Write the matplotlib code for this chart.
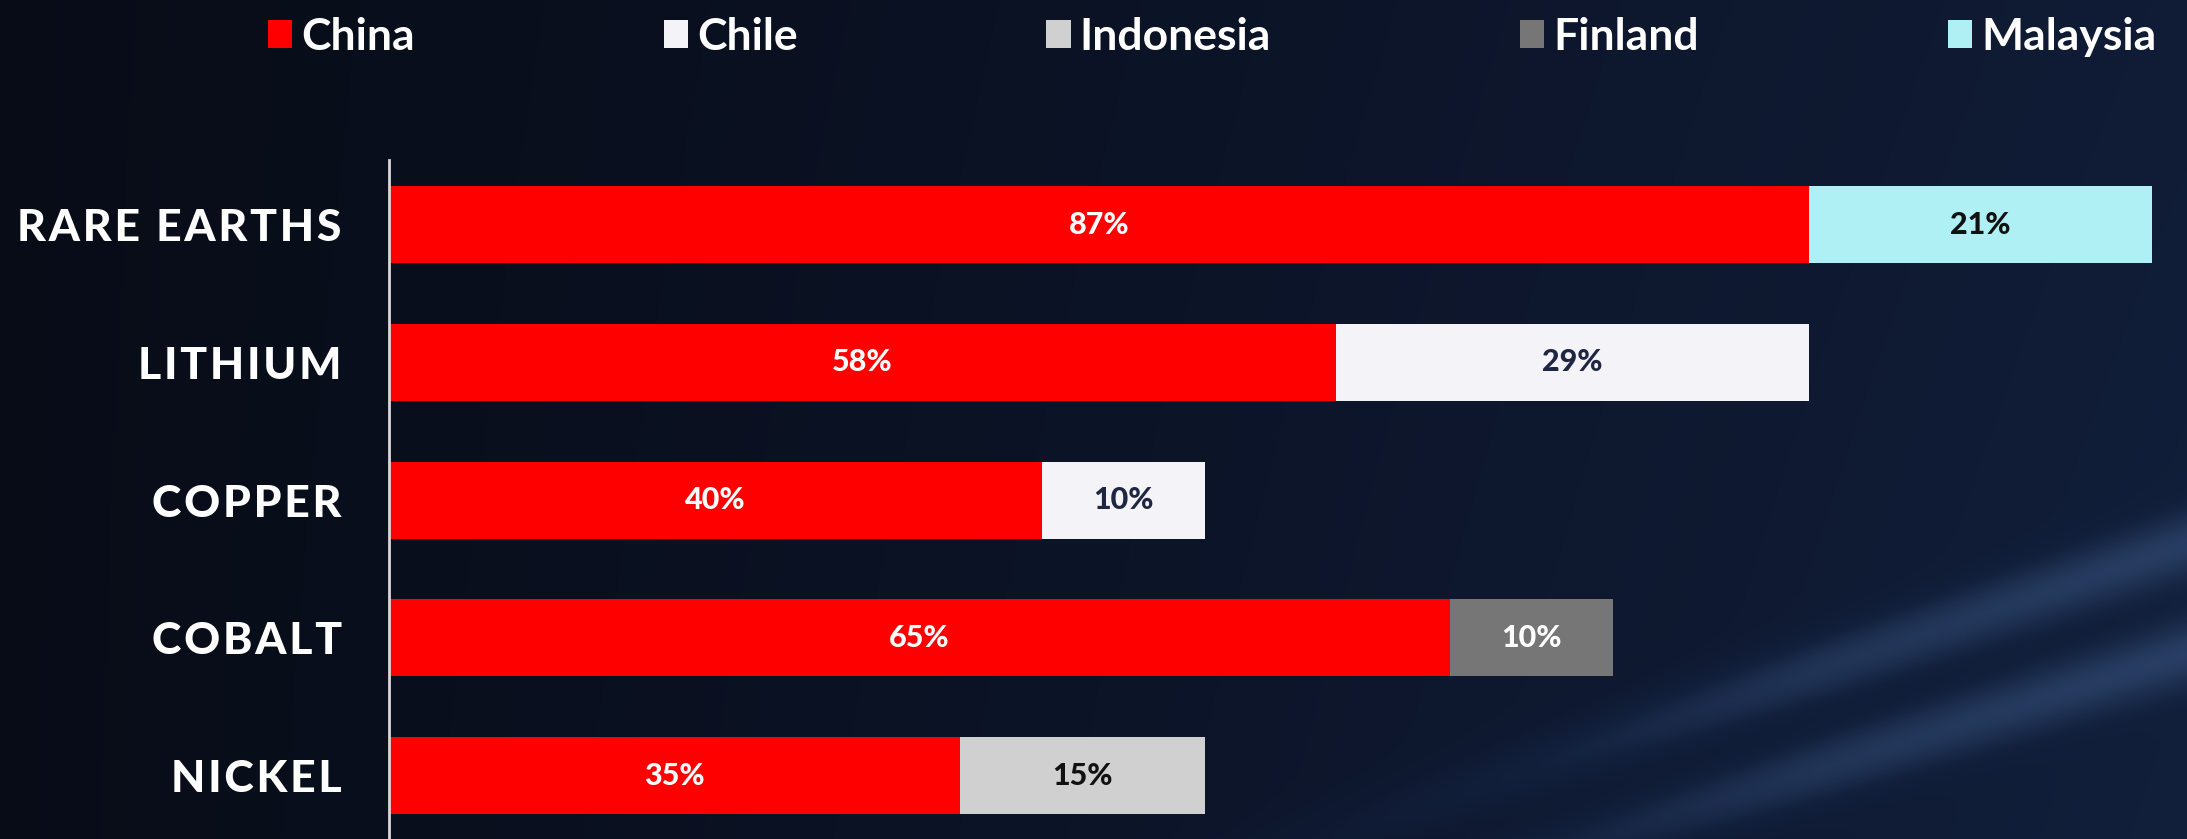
import numpy as np
import matplotlib.pyplot as plt
from matplotlib.colors import LinearSegmentedColormap

plt.rcParams['font.family'] = ['Lato', 'DejaVu Sans']

categories = ['RARE EARTHS', 'LITHIUM', 'COPPER', 'COBALT', 'NICKEL']
china = [87, 58, 40, 65, 35]
others = {
    'Chile':     [0, 29, 10, 0, 0],
    'Indonesia': [0, 0, 0, 0, 15],
    'Finland':   [0, 0, 0, 10, 0],
    'Malaysia':  [21, 0, 0, 0, 0],
}
colors = {'China': '#ff0000', 'Chile': '#f4f3f8', 'Indonesia': '#d0d0d0',
          'Finland': '#767676', 'Malaysia': '#aef0f3'}
text_colors = {'China': 'white', 'Chile': '#1f2642', 'Indonesia': '#111111',
               'Finland': 'white', 'Malaysia': '#111111'}

fig = plt.figure(figsize=(21.87, 8.39), dpi=100)

# background gradient with soft light streaks bottom right
bg = fig.add_axes([0, 0, 1, 1])
h, w = 300, 700
yy, xx = np.mgrid[0:1:h*1j, 0:1:w*1j]
val = 0.12 + 0.5 * xx ** 1.3 + 0.1 * yy * xx
for a, b in ((1.54, 0.89), (1.60, 0.82)):
    d = yy - (a - b * xx)
    val += 0.38 * np.exp(-(d / 0.04) ** 2) * np.clip((xx - 0.5) * 3, 0, 1)
cmap = LinearSegmentedColormap.from_list('bg', ['#060910', '#0c1428', '#12203c', '#2a4066'])
bg.imshow(val, cmap=cmap, vmin=0, vmax=1.1, aspect='auto', extent=[0, 1, 0, 1], origin='upper')
bg.axis('off')

ax = fig.add_axes([389 / 2187, 0, (2187 - 389) / 2187, (839 - 160) / 839])
ax.patch.set_alpha(0)
y = np.arange(len(categories))
bh = 0.56

ax.barh(y, china, height=bh, color=colors['China'], label='China')
for i, v in enumerate(china):
    ax.text(v / 2, y[i], f'{v}%', ha='center', va='center', color=text_colors['China'],
            fontsize=22, fontweight='black')

for name, vals in others.items():
    ax.barh(y, vals, left=china, height=bh, color=colors[name], label=name)
    for i, v in enumerate(vals):
        if v:
            ax.text(china[i] + v / 2, y[i], f'{v}%', ha='center', va='center',
                    color=text_colors[name], fontsize=22, fontweight='black')

ax.set_xlim(0, (2187 - 389) / 16.32)
ax.set_ylim(len(categories) - 1 + 0.46, -0.47)
ax.set_yticks(y)
# spaced-out capitals like the original
ax.set_yticklabels(['\u200a'.join(c) for c in categories], fontsize=32,
                   fontweight='black', color='white')
ax.tick_params(axis='y', length=0, pad=34)
ax.set_xticks([])
for s in ['top', 'right', 'bottom']:
    ax.spines[s].set_visible(False)
ax.spines['left'].set_color('#d8d8d8')
ax.spines['left'].set_linewidth(2)

handles, labels = ax.get_legend_handles_labels()
leg = fig.legend(handles, labels, loc='upper left', bbox_to_anchor=(241 / 2187, 1.012),
                 ncol=5, frameon=False, fontsize=32, handlelength=0.55, handleheight=0.6,
                 handletextpad=0.2, columnspacing=5.6, borderaxespad=0.2)
for t in leg.get_texts():
    t.set_color('white')
    t.set_fontweight('bold')

fig.savefig('out.png', dpi=100)
